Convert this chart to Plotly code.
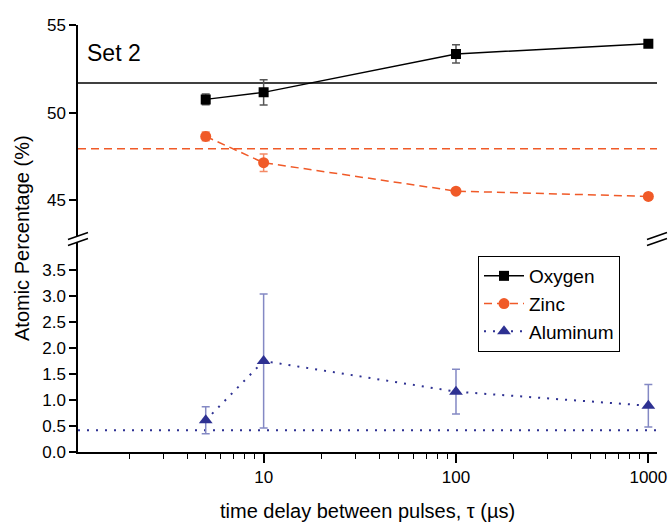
import plotly.graph_objects as go

# ---------------- data ----------------
delays = [5, 10, 100, 1000]
oxygen = [50.76, 51.16, 53.35, 53.93]
oxygen_err = [0.3, 0.72, 0.52, 0.12]
zinc = [48.65, 47.15, 45.53, 45.23]
zinc_err = [0.25, 0.5, 0.1, 0.15]
aluminum = [0.61, 1.75, 1.16, 0.89]
aluminum_err = [0.26, 1.29, 0.43, 0.41]

oxygen_ref = 51.7
zinc_ref = 47.95
aluminum_ref = 0.42

x_major = [10, 100, 1000]
x_minor = [m * 10 ** k for k in range(3) for m in range(2, 10)]
top_ticks = [45, 50, 55]
bottom_ticks = [0, 0.5, 1.0, 1.5, 2.0, 2.5, 3.0, 3.5]

# ---------------- style ----------------
FONT = "Liberation Sans, Arial, Helvetica, sans-serif"
BLACK = "#000000"
ORANGE = "#F05A28"
ORANGE_ERR = "#F48A66"
BLUE = "#2E3192"
BLUE_ERR = "#8489C4"

L, R, T, B = 78, 13, 25, 70
W, H = 670, 522
PW, PH = W - L - R, H - T - B


def px2paper(px, py):
    return (px - L) / PW, (H - B - py) / PH


fig = go.Figure()

fig.add_trace(go.Scatter(
    x=delays, y=oxygen, name="Oxygen", xaxis="x", yaxis="y2",
    mode="lines+markers",
    line=dict(color=BLACK, width=1.5),
    marker=dict(symbol="square", size=10, color=BLACK),
    error_y=dict(type="data", array=oxygen_err, color="#555555", thickness=1.5, width=4),
))
fig.add_trace(go.Scatter(
    x=delays, y=zinc, name="Zinc", xaxis="x", yaxis="y2",
    mode="lines+markers",
    line=dict(color=ORANGE, width=1.5, dash="8px,5px"),
    marker=dict(symbol="circle", size=11, color=ORANGE),
    error_y=dict(type="data", array=zinc_err, color=ORANGE_ERR, thickness=1.5, width=4),
))
fig.add_trace(go.Scatter(
    x=delays, y=aluminum, name="Aluminum", xaxis="x", yaxis="y",
    mode="lines+markers",
    line=dict(color=BLUE, width=2, dash="2px,7px"),
    marker=dict(symbol="triangle-up", size=12, color=BLUE),
    error_y=dict(type="data", array=aluminum_err, color=BLUE_ERR, thickness=1.5, width=4),
))

shapes = [
    dict(type="line", xref="x domain", x0=0, x1=1, yref="y2", y0=oxygen_ref, y1=oxygen_ref,
         line=dict(color=BLACK, width=1.5), layer="below"),
    dict(type="line", xref="x domain", x0=0, x1=1, yref="y2", y0=zinc_ref, y1=zinc_ref,
         line=dict(color=ORANGE, width=1.5, dash="8px,5px"), layer="below"),
    dict(type="line", xref="x domain", x0=0, x1=1, yref="y", y0=aluminum_ref, y1=aluminum_ref,
         line=dict(color=BLUE, width=2, dash="2px,7px"), layer="below"),
]

# axis-break marks "//" on left and right axes
for cx in (L, W - R):
    cy = 239
    a = px2paper(cx - 10, cy - 3 + 3.5)
    b = px2paper(cx + 10, cy - 3 - 3.5)
    c = px2paper(cx + 10, cy + 3 - 3.5)
    d = px2paper(cx - 10, cy + 3 + 3.5)
    shapes.append(dict(type="path", xref="paper", yref="paper",
                       path=f"M{a[0]},{a[1]} L{b[0]},{b[1]} L{c[0]},{c[1]} L{d[0]},{d[1]} Z",
                       fillcolor="white", line=dict(width=0), layer="above"))
    shapes.append(dict(type="line", xref="paper", yref="paper", x0=a[0], y0=a[1], x1=b[0], y1=b[1],
                       line=dict(color=BLACK, width=1.5), layer="above"))
    shapes.append(dict(type="line", xref="paper", yref="paper", x0=d[0], y0=d[1], x1=c[0], y1=c[1],
                       line=dict(color=BLACK, width=1.5), layer="above"))

xrange = [0.035, 3.045]
common_axis = dict(showgrid=False, zeroline=False, showline=True, linecolor=BLACK, linewidth=1.5,
                   tickcolor=BLACK, tickwidth=1.5, automargin=False)

fig.update_layout(
    width=W, height=H,
    margin=dict(l=L, r=R, t=T, b=B, autoexpand=False),
    paper_bgcolor="white", plot_bgcolor="white",
    font=dict(family=FONT, size=17, color=BLACK),
    showlegend=True,
    legend=dict(x=px2paper(478, 0)[0], y=px2paper(0, 256)[1], xanchor="left", yanchor="top",
                bordercolor=BLACK, borderwidth=1, bgcolor="white",
                font=dict(family=FONT, size=19), tracegroupgap=0, itemwidth=40),
    xaxis=dict(type="log", range=xrange, anchor="y", domain=[0, 1],
               tickvals=x_major, ticktext=[str(v) for v in x_major],
               ticks="outside", ticklen=9,
               minor=dict(tickvals=x_minor, ticks="outside", ticklen=5, tickcolor=BLACK, tickwidth=1.2),
               **common_axis),
    xaxis2=dict(type="log", range=xrange, overlaying="x", side="top", anchor="y2",
                tickvals=x_major, showticklabels=False, ticks="inside", ticklen=5,
                minor=dict(tickvals=x_minor, ticks="inside", ticklen=3, tickcolor=BLACK, tickwidth=1),
                **common_axis),
    yaxis=dict(domain=[0, 0.5], range=[0, 4.106], anchor="x",
               tickvals=bottom_ticks, tickformat=".1f", ticks="outside", ticklen=7,
               **common_axis),
    yaxis2=dict(domain=[0.5, 1], range=[42.83, 55], anchor="x",
                tickvals=top_ticks, ticks="outside", ticklen=7,
                **common_axis),
    yaxis3=dict(range=[0, 4.106], overlaying="y", side="right", anchor="x",
                tickvals=bottom_ticks, showticklabels=False, ticks="inside", ticklen=6,
                **common_axis),
    yaxis4=dict(range=[42.83, 55], overlaying="y2", side="right", anchor="x",
                tickvals=top_ticks, showticklabels=False, ticks="inside", ticklen=6,
                **common_axis),
    shapes=shapes,
    annotations=[
        dict(text="Set 2", xref="paper", yref="paper", x=px2paper(85, 0)[0], y=px2paper(0, 53)[1],
             xanchor="left", yanchor="middle", showarrow=False, font=dict(size=23)),
        dict(text="Atomic Percentage (%)", xref="paper", yref="paper",
             x=px2paper(22, 0)[0], y=px2paper(0, 238)[1], xanchor="center", yanchor="middle",
             textangle=-90, showarrow=False, font=dict(size=20)),
        dict(text="time delay between pulses, τ (µs)", xref="paper", yref="paper",
             x=px2paper(367, 0)[0], y=px2paper(0, 511)[1], xanchor="center", yanchor="middle",
             showarrow=False, font=dict(size=20)),
    ],
)

fig.write_html("out.html",
               config={"displayModeBar": False},
               post_script="document.body.style.margin='0px';document.body.style.padding='0px';")
